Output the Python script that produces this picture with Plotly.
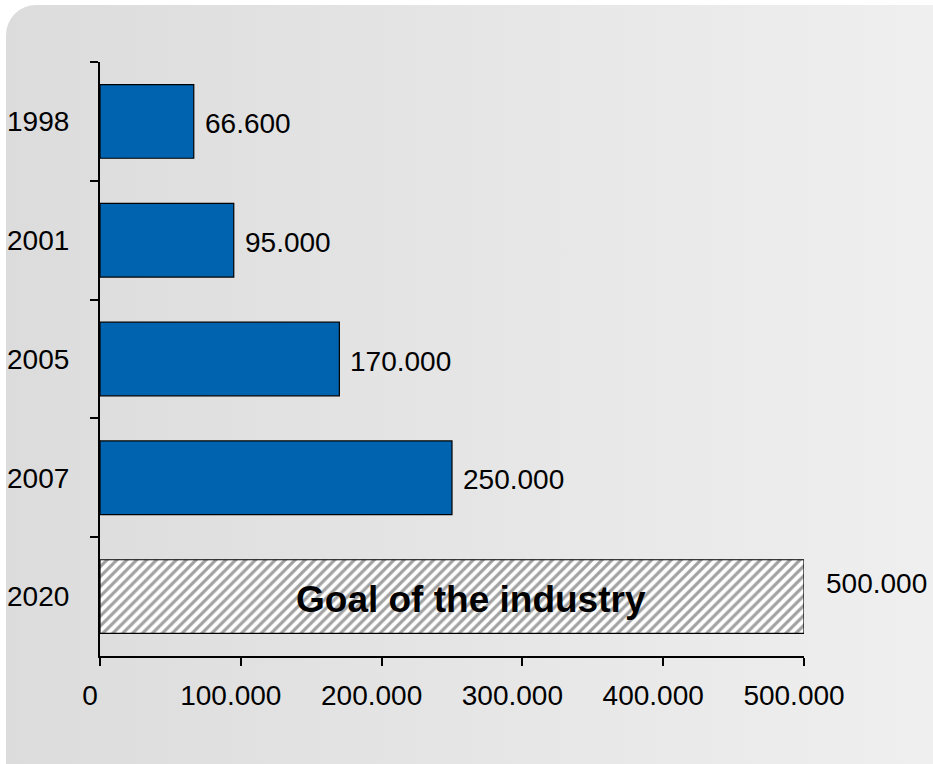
import base64
import plotly.graph_objects as go

years = ["1998", "2001", "2005", "2007", "2020"]
values = [66600, 95000, 170000, 250000, 500000]
x_ticks = [0, 100000, 200000, 300000, 400000, 500000]
goal_label = "Goal of the industry"


def fmt(v):
    return f"{v:,}".replace(",", ".")


W, H = 933, 764
L, R, T, B = 100, 129, 62, 108

bar_colors = ["#0063AF"] * 4 + ["white"]
patterns = [""] * 4 + ["/"]

fig = go.Figure(
    go.Bar(
        x=values,
        y=years,
        orientation="h",
        width=0.62,
        marker=dict(
            color=bar_colors,
            line=dict(color="black", width=1.2),
            pattern=dict(shape=patterns, fgcolor="#8a8a8a", bgcolor="white", size=7, solidity=0.45),
        ),
        hoverinfo="skip",
    )
)

FONT = "Liberation Sans, Arial"
annotations = []
for i, v in enumerate(values[:-1]):
    annotations.append(dict(x=v, y=i, xref="x", yref="y", text=fmt(v), showarrow=False,
                            xanchor="left", xshift=9, yshift=-2,
                            font=dict(family=FONT, size=28, color="black")))
last = len(values) - 1
annotations.append(dict(x=values[last], y=last, xref="x", yref="y", text=fmt(values[last]), showarrow=False,
                        xanchor="left", xshift=20, yshift=13,
                        font=dict(family=FONT, size=28, color="black")))
annotations.append(dict(x=values[last] / 2, y=last, xref="x", yref="y", text=f"<b>{goal_label}</b>",
                        showarrow=False, xshift=19, yshift=-3,
                        font=dict(family=FONT, size=37, color="black")))

svg = f'''<svg xmlns="http://www.w3.org/2000/svg" width="{W}" height="{H}" viewBox="0 0 {W} {H}" preserveAspectRatio="none">
<defs><linearGradient id="g" x1="0" y1="0" x2="1" y2="0">
<stop offset="0" stop-color="#dcdcdc"/><stop offset="1" stop-color="#f0f0f0"/></linearGradient></defs>
<rect x="6" y="5" width="{W + 40}" height="{H + 40}" rx="30" ry="30" fill="url(#g)"/>
</svg>'''
src = "data:image/svg+xml;base64," + base64.b64encode(svg.encode()).decode()

pw, ph = W - L - R, H - T - B
fig.update_layout(
    width=W, height=H,
    margin=dict(l=L, r=R, t=T, b=B, pad=0),
    paper_bgcolor="white",
    plot_bgcolor="rgba(0,0,0,0)",
    showlegend=False,
    annotations=annotations,
    images=[dict(source=src, xref="paper", yref="paper",
                 x=-L / pw, y=1 + T / ph, sizex=W / pw, sizey=H / ph,
                 xanchor="left", yanchor="top", sizing="stretch", layer="below")],
    xaxis=dict(range=[0, 500000], tickvals=x_ticks, ticktext=[fmt(v) for v in x_ticks],
               automargin=False,
               showgrid=False, zeroline=False, showline=True, linecolor="black", linewidth=1.5,
               ticks="outside", ticklen=8, tickwidth=1.5, tickcolor="black",
               ticklabelshift=-10, ticklabelstandoff=6,
               tickfont=dict(family=FONT, size=28, color="black")),
    yaxis=dict(type="category", categoryorder="array", categoryarray=years,
               range=[len(years) - 0.5, -0.5], automargin=False,
               tickson="boundaries", showgrid=False, zeroline=False,
               showline=True, linecolor="black", linewidth=1.5,
               ticks="outside", ticklen=8, tickwidth=1.5, tickcolor="black",
               ticksuffix="\u00a0\u00a0\u00a0",
               tickfont=dict(family=FONT, size=28, color="black")),
)

fig.write_html("out.html", config={"displayModeBar": False},
               post_script="document.body.style.margin='0';")
